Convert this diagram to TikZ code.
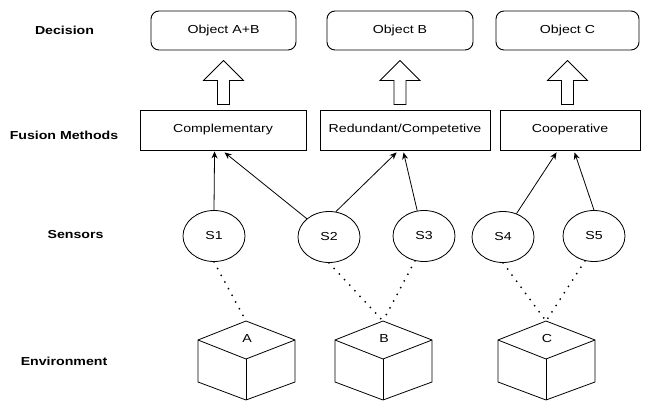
\documentclass[tikz,border=0pt]{standalone}
\usepackage{fontspec}
\setmainfont[FakeStretch=1.22]{Liberation Sans}
\usetikzlibrary{calc,shapes.geometric,arrows.meta}

\newcommand{\hollowup}[2]{%
	\draw[hollow] ($(#1.south |- #2.north)+(-6,-5)$) -- ++(0,-24) -- ++(-14,0) -- ++(20,-20) -- ++(20,20) -- ++(-14,0) -- ++(0,24) -- cycle;}
\newcommand{\envbox}[3]{%
	\coordinate (#1) at (#2,321);
	\draw[cube] (#1) -- ++(-48,19) -- ++(0,42) -- ++(48,18) -- ++(49,-18) -- ++(0,-42) -- cycle;
	\draw[cube] ($(#1)+(-48,19)$) -- ++(48,19) -- ++(49,-19);
	\draw[cube] ($(#1)+(0,38)$) -- ++(0,41);
	\node[font=\fontsize{11.6}{14}\selectfont] (#1lab) at ($(#1)+(1,18)$) {#3};}

\begin{document}
\begin{tikzpicture}[x=1pt,y=-1pt,
		every node/.style={font=\fontsize{11.6}{14}\selectfont},
		level/.style={font=\fontsize{11.6}{14}\selectfont\bfseries},
		decision/.style={draw,line width=0.9pt,rounded corners=8pt,minimum height=39pt,inner sep=0pt},
		fusion/.style={draw,line width=0.9pt,minimum height=40pt,inner sep=0pt},
		sensor/.style={draw,ellipse,line width=0.8pt,minimum width=62pt,minimum height=51pt,inner sep=0pt},
		hollow/.style={draw,line width=0.8pt,line join=miter},
		cube/.style={line width=0.8pt,line join=miter},
		feed/.style={-{Stealth[length=7pt,width=6pt]},line width=0.8pt},
		seen/.style={line width=2pt,line cap=round,dash pattern=on 0pt off 7.6pt}]
	\useasboundingbox (0,0) rectangle (645,401);

	\node[level] (lDec) at (64.5,30) {Decision};
	\node[level] (lFus) at (64,135) {Fusion Methods};
	\node[level] (lSen) at (75.5,235) {Sensors};
	\node[level] (lEnv) at (64,361) {Environment};

	\node[decision,minimum width=145pt] (d1) at (223.5,30.5) {Object A+B};
	\node[decision,minimum width=146pt] (d2) at (400,30.5) {Object B};
	\node[decision,minimum width=143pt] (d3) at (567.5,30.5) {Object C};

	\node[fusion,minimum width=166pt] (f1) at (223,130) {Complementary};
	\node[fusion,minimum width=170pt] (f2) at (405,130) {Redundant/Competetive};
	\node[fusion,minimum width=140pt] (f3) at (570,130) {Cooperative};

	\hollowup{d1}{f1}
	\hollowup{d2}{f2}
	\hollowup{d3}{f3}

	\node[sensor] (s1) at (214,236) {S1};
	\node[sensor] (s2) at (329,237) {S2};
	\node[sensor] (s3) at (424,236) {S3};
	\node[sensor] (s4) at (503,237) {S4};
	\node[sensor] (s5) at (594,236) {S5};

	\draw[feed] (s1.north) -- ($(f1.south west)+(75,1)$);
	\draw[feed] (s2.north west) -- ($(f1.south west)+(85,2)$);
	\draw[feed] (s2.75) -- ($(f2.south west)+(77,2)$);
	\draw[feed] (s3.105) -- ($(f2.south west)+(84,2)$);
	\draw[feed] (s4.60) -- ($(f3.south west)+(57,2)$);
	\draw[feed] (s5.north) -- ($(f3.south west)+(75,2)$);

	\envbox{eA}{246}{A}
	\envbox{eB}{383}{B}
	\envbox{eC}{546}{C}

	\draw[seen] (s1.south) -- (eA);
	\draw[seen] (s2.south) -- (eB);
	\draw[seen] (s3.250) -- (eB);
	\draw[seen] (s4.south) -- (eC);
	\draw[seen] (s5.250) -- (eC);
\end{tikzpicture}
\end{document}
